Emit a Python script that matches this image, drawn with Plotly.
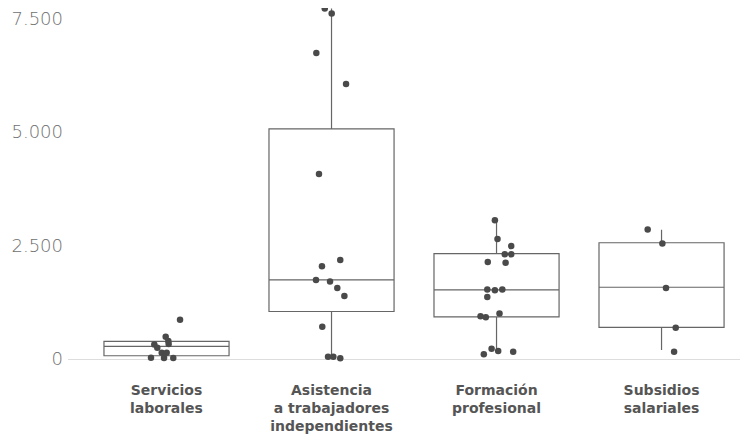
import plotly.graph_objects as go

categories = ["Servicios<br>laborales", "Asistencia<br>a trabajadores<br>independientes",
              "Formación<br>profesional", "Subsidios<br>salariales"]

# observed values per category
servicios = [863, 490, 395, 329, 322, 248, 138, 138, 29, 22, 22]
asistencia = [7723, 7613, 6742, 6061, 4078, 2181, 2042, 1742, 1706, 1566, 1390, 709, 51, 51, 15]
formacion = [3059, 2642, 2488, 2306, 2306, 2137, 2123, 1531, 1515, 1531, 1368, 1003, 944, 922, 226, 176, 160, 103]
subsidios = [2855, 2547, 1566, 687, 161]

# horizontal jitter of each point (category units)
jit_servicios = [0.082, -0.005, 0.011, 0.013, -0.074, -0.056, -0.029, 0.001, -0.094, -0.015, 0.041]
jit_asistencia = [-0.041, 0.001, -0.092, 0.088, -0.076, 0.053, -0.058, -0.094, -0.009, 0.035, 0.078, -0.056, -0.021, 0.011, 0.053]
jit_formacion = [-0.010, 0.006, 0.089, 0.050, 0.089, -0.053, 0.055, -0.056, -0.010, 0.035, -0.056, 0.018, -0.097, -0.065, -0.030, 0.010, 0.101, -0.077]
jit_subsidios = [-0.084, 0.005, 0.027, 0.086, 0.076]

# box statistics
q1 = [72, 1047, 929, 696]
median = [279, 1742, 1523, 1581]
q3 = [389, 5073, 2321, 2562]
lowerfence = [22, 15, 176, 198]
upperfence = [490, 7723, 3059, 2848]

tick_vals = [0, 2500, 5000, 7500]
tick_text = ["0", "2.500", "5.000", "7.500"]

values = [servicios, asistencia, formacion, subsidios]
jitters = [jit_servicios, jit_asistencia, jit_formacion, jit_subsidios]

fig = go.Figure()
for i in range(len(categories)):
    fig.add_trace(go.Box(
        x=[i], q1=[q1[i]], median=[median[i]], q3=[q3[i]],
        lowerfence=[lowerfence[i]], upperfence=[upperfence[i]],
        width=0.758, whiskerwidth=0, boxpoints=False,
        fillcolor="rgba(0,0,0,0)", line=dict(color="#666666", width=1.2),
        hoverinfo="skip",
    ))
for i in range(len(categories)):
    fig.add_trace(go.Scatter(
        x=[i + j for j in jitters[i]], y=values[i], mode="markers",
        marker=dict(color="#4a4a4a", size=6.5), hoverinfo="skip",
        cliponaxis=False,
    ))

# page body has an 8px default margin, so the figure is sized to fit the window
fig.update_layout(
    width=740, height=429,
    margin=dict(l=60, r=0, t=0, b=67),
    plot_bgcolor="white", paper_bgcolor="white",
    showlegend=False,
)
fig.update_xaxes(
    range=[-0.597, 3.524], tickvals=list(range(len(categories))), ticktext=categories,
    showgrid=False, zeroline=False, showline=False, ticks="",
    tickfont=dict(family="DejaVu Sans", size=14, color="#555555", weight="bold"),
    ticklabelstandoff=10,
)
fig.update_yaxes(
    range=[-242, 7735], tickvals=tick_vals, ticktext=tick_text,
    showgrid=False, zeroline=True, zerolinecolor="#dddddd", zerolinewidth=1,
    showline=False, ticks="",
    tickfont=dict(family="DejaVu Sans", size=18, color="#707070", weight=200),
    ticklabelstandoff=4, ticklabeloverflow="allow",
)

fig.write_html("out.html")
